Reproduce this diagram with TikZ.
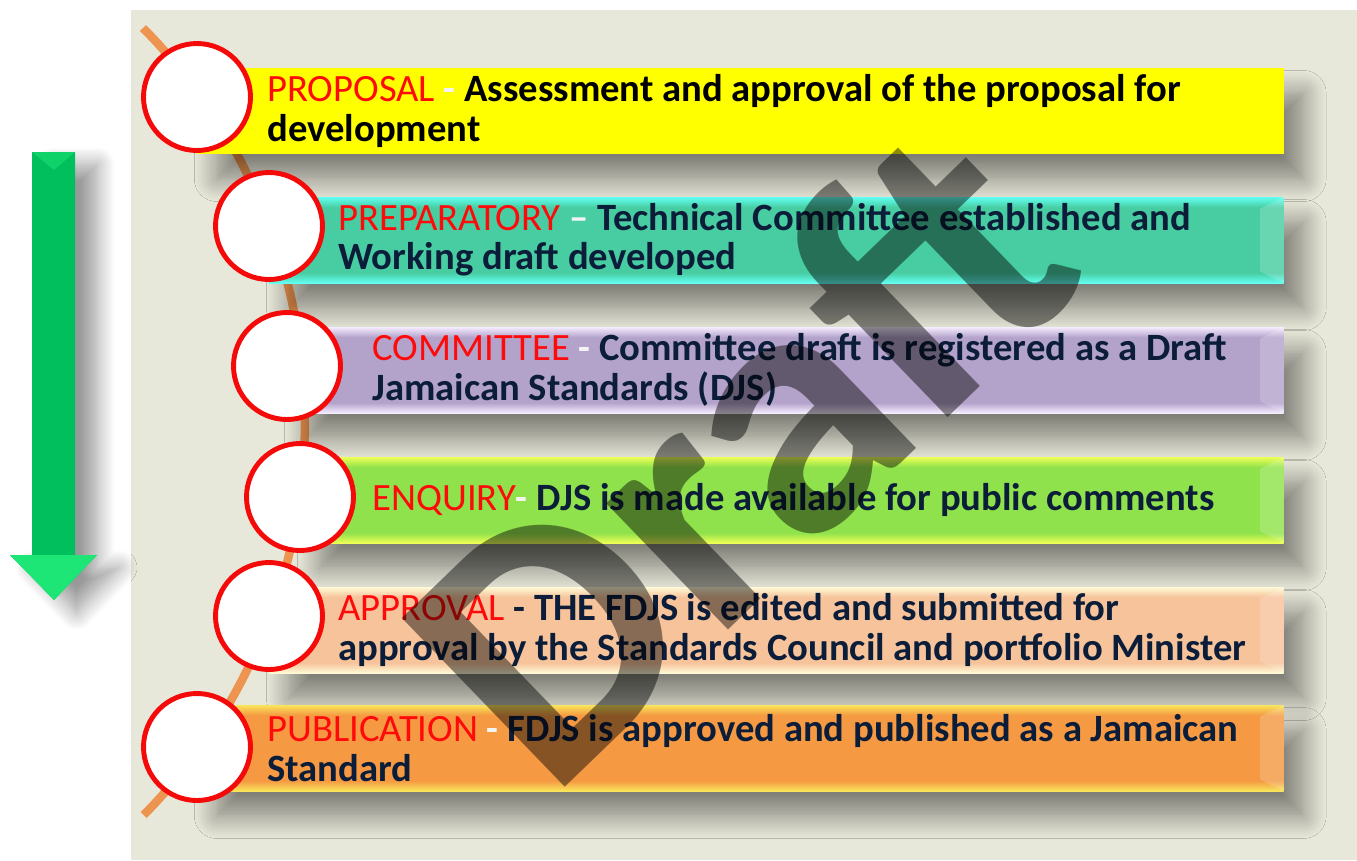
\documentclass[tikz,border=0pt]{standalone}
\usepackage{fontspec}
\setmainfont{Carlito}
\usetikzlibrary{shadows.blur}
\definecolor{panel}{HTML}{E8E8DA}
\definecolor{arcline}{HTML}{EC9450}
\definecolor{ringred}{HTML}{F50A0A}
\definecolor{lblred}{HTML}{FF0A0A}
\definecolor{navy}{HTML}{0C1D3A}
\definecolor{dashc}{HTML}{F4F4F4}
\definecolor{arrowg}{HTML}{00BF5C}
\definecolor{arrowh}{HTML}{1EE676}
\definecolor{yel}{HTML}{FFFF00}
\definecolor{tealhi}{HTML}{62FFF2}
\definecolor{tealmid}{HTML}{48CDA2}
\definecolor{lilahi}{HTML}{F6ECFF}
\definecolor{lilamid}{HTML}{B3A3CB}
\definecolor{limehi}{HTML}{EEFF55}
\definecolor{limemid}{HTML}{8FE24B}
\definecolor{peachhi}{HTML}{FFFAD6}
\definecolor{peachmid}{HTML}{F6C39B}
\definecolor{orhi}{HTML}{F9E55A}
\definecolor{ormid}{HTML}{F59943}
\newcommand\bevshade[3]{\pgfdeclareverticalshading{#1}{100bp}{color(0bp)=(#2); color(25bp)=(#2); color(31bp)=(#3); color(69bp)=(#3); color(75bp)=(#2); color(100bp)=(#2)}}
\bevshade{tealbev}{tealhi}{tealmid}
\bevshade{lilabev}{lilahi}{lilamid}
\bevshade{limebev}{limehi}{limemid}
\bevshade{peachbev}{peachhi}{peachmid}
\bevshade{orbev}{orhi}{ormid}
\tikzset{
  bar/.style={rectangle, inner sep=0, minimum height=1.72cm, anchor=east,
    blur shadow={shadow xshift=.4cm, shadow yshift=-.5cm, shadow blur radius=.45cm,
      shadow blur steps=14, shadow opacity=45}},
  ring/.style={circle, inner sep=0, minimum size=2.14cm, fill=white, draw=ringred, line width=2.8pt},
  txt/.style={inner sep=0, anchor=west, align=left, text=navy,
    font=\fontsize{22pt}{22.4pt}\selectfont\bfseries},
  bevel/.style={white, opacity=.18}
}
\newcommand\lbl[1]{{\color{lblred}\mdseries #1}}
\newcommand\dsh[1]{{\color{dashc}#1}}
\begin{document}
\begin{tikzpicture}[x=0.02cm, y=-0.02cm]
\useasboundingbox (0,0) rectangle (1357,860);
\fill[panel] (131,10) rectangle (1357,860);

\fill[arrowg, blur shadow={shadow xshift=.45cm, shadow yshift=-.25cm, shadow blur radius=.35cm,
    shadow blur steps=14, shadow opacity=40}]
  (32,152) -- (75,152) -- (75,555) -- (97,555) -- (54,600) -- (10,555) -- (32,555) -- cycle;
\fill[arrowh] (10,555) -- (97,555) -- (54,600) -- cycle;
\fill[arrowh, opacity=.5] (32,152) -- (75,152) -- (54,170) -- cycle;

\coordinate (top) at (143,28);
\coordinate (bot) at (142,813);
\draw[arcline, line width=.17cm] (top) arc[start angle=-44.7, end angle=44.6, radius=560];

\node[bar, fill=yel, minimum width=21.74cm] (b1) at (1284,111){};
\node[bar, shading=tealbev, minimum width=20.3cm] (b2) at (1284,240){};
\fill[bevel] (b2.north east) -- (b2.south east) -- ([shift={(-24,-12)}]b2.south east) -- ([shift={(-24,12)}]b2.north east) -- cycle;
\node[bar, shading=lilabev, minimum width=19.94cm] (b3) at (1284,370){};
\fill[bevel] (b3.north east) -- (b3.south east) -- ([shift={(-24,-12)}]b3.south east) -- ([shift={(-24,12)}]b3.north east) -- cycle;
\node[bar, shading=limebev, minimum width=19.68cm] (b4) at (1284,500){};
\fill[bevel] (b4.north east) -- (b4.south east) -- ([shift={(-24,-12)}]b4.south east) -- ([shift={(-24,12)}]b4.north east) -- cycle;
\node[bar, shading=peachbev, minimum width=20.3cm] (b5) at (1284,630){};
\fill[bevel] (b5.north east) -- (b5.south east) -- ([shift={(-24,-12)}]b5.south east) -- ([shift={(-24,12)}]b5.north east) -- cycle;
\node[bar, shading=orbev, minimum width=21.74cm] (b6) at (1284,748){};
\fill[bevel] (b6.north east) -- (b6.south east) -- ([shift={(-24,-12)}]b6.south east) -- ([shift={(-24,12)}]b6.north east) -- cycle;

\node[ring] (c1) at (197,97){};
\node[ring] (c2) at (269,226){};
\node[ring] (c3) at (287,366){};
\node[ring] (c4) at (300,497){};
\node[ring] (c5) at (269,616){};
\node[ring] (c6) at (197,747){};

\node[txt, text=black] (t1) at (267,111) {\lbl{PROPOSAL} \dsh{-} Assessment and approval of the proposal for\\development};
\node[txt] (t2) at (338,240) {\lbl{PREPARATORY} \dsh{--} Technical Committee established and\\Working draft developed};
\node[txt] (t3) at (372,370) {\lbl{COMMITTEE} \dsh{-} Committee draft is registered as a Draft\\Jamaican Standards (DJS)};
\node[txt] (t4) at (372,500) {\lbl{ENQUIRY}\dsh{-} DJS is made available for public comments};
\node[txt] (t5) at (338,630) {\lbl{APPROVAL} - THE FDJS is edited and submitted for\\approval by the Standards Council and portfolio Minister};
\node[txt] (t6) at (267,748) {\lbl{PUBLICATION} \dsh{-} FDJS is approved and published as a Jamaican\\Standard};

\node[rotate=44, anchor=base west, inner sep=0, text=black, text opacity=.45,
  font=\fontsize{206pt}{206pt}\selectfont\bfseries] (wm) at (550,802) {Draft};
\end{tikzpicture}
\end{document}
